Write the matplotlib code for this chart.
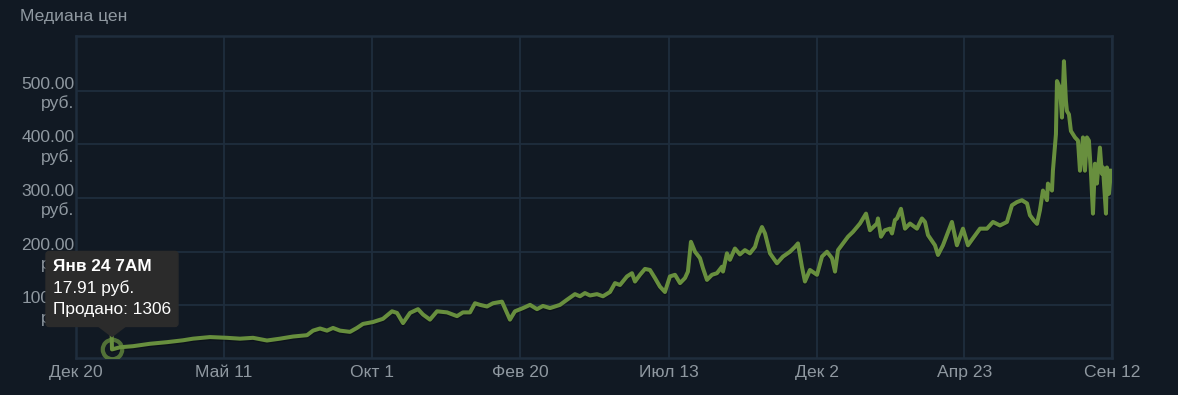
import matplotlib.pyplot as plt
import matplotlib.dates as mdates
import pandas as pd
from matplotlib.patches import FancyBboxPatch, Polygon
from matplotlib.transforms import IdentityTransform

plt.rcParams['font.family'] = ['Liberation Sans', 'DejaVu Sans']

# Медиана цен: дни от 20 декабря и цена в рублях
start = pd.Timestamp('2020-12-20')
days = [34.3, 34.6, 42.3, 54.8, 71.1, 87.5, 102.9, 112.5, 128.8, 145.2, 157.7, 170.2,
        183.6, 196.1, 208.6, 222.1, 227.9, 234.6, 241.3, 247.1, 253.8, 263.4, 270.1,
        275.9, 285.5, 295.1, 303.8, 308.6, 314.4, 321.1, 328.8, 333.6, 340.3, 347.1,
        356.7, 366.3, 372.0, 378.8, 383.6, 388.4, 395.1, 400.9, 409.5, 414.3, 417.2,
        422.0, 429.7, 436.5, 443.2, 448.9, 455.7, 465.3, 472.0, 479.7, 484.5, 489.3,
        494.1, 500.9, 506.6, 513.4, 518.2, 523.0, 529.7, 534.5, 537.4, 542.2, 547.0,
        551.8, 556.6, 561.4, 566.2, 571.0, 575.9, 580.7, 585.5, 588.3, 591.2, 595.1,
        599.9, 602.8, 606.6, 611.4, 616.2, 621.0, 622.0, 625.8, 628.7, 633.5, 638.3,
        643.1, 647.9, 652.8, 655.6, 659.5, 662.4, 667.2, 673.9, 679.7, 686.4, 691.2,
        694.1, 697.9, 700.8, 705.6, 712.4, 717.2, 722.0, 726.8, 729.7, 732.6, 737.4,
        742.2, 747.0, 753.7, 759.5, 763.3, 770.0, 771.0, 773.9, 777.7, 782.5, 784.5,
        787.3, 789.3, 793.1, 797.0, 801.8, 808.5, 813.3, 816.2, 819.1, 825.8, 828.7,
        833.5, 842.1, 846.9, 852.7, 857.5, 862.3, 869.1, 875.8, 881.6, 888.3, 895.0,
        899.8, 904.6, 909.4, 914.3, 917.1, 921.0, 923.9, 926.7, 929.6, 933.5, 934.4,
        938.3, 939.2, 942.1, 943.1, 946.0, 947.9, 949.8, 951.7, 952.7, 954.6, 956.5,
        960.4, 963.3, 965.2, 968.1, 970.0, 971.9, 973.8, 975.8, 977.7, 979.6, 981.5,
        984.4, 986.3, 987.3, 990.2, 991.1, 993.1, 995.0]
prices = [45, 18, 22, 24, 28.5, 31.5, 35, 38, 41, 39.6, 38, 39.6,
          34.6, 38, 42, 44.5, 53, 57, 53, 58, 53, 50.7, 58,
          65.5, 69, 75, 89, 86, 67, 86, 93, 83, 73.5, 89,
          87, 80, 87, 87, 104, 101, 98, 104, 107, 86, 73.5,
          89, 95, 101, 93, 99, 95, 101, 110.5, 121, 117, 123,
          118.5, 121, 117, 125, 141.5, 138, 154, 160, 144.5, 157, 168,
          166, 151, 135, 125, 154, 157, 141.5, 151, 163, 218.5, 200,
          188, 169, 147.5, 157, 160, 172, 163, 197, 185, 206, 195,
          203, 197, 209, 228, 246, 234, 197, 178.5, 191, 200, 209,
          215.5, 172, 144.5, 166, 157, 191, 200, 188, 163, 203, 215.5,
          228, 237, 252.5, 271, 240, 252.5, 262, 228, 240, 243, 234,
          259, 262, 280, 243, 252.5, 243, 262, 255.5, 231, 212, 194,
          212, 255.5, 212, 243, 212, 225, 243, 243, 255.5, 249, 255.5,
          286.5, 292.5, 296, 290, 268, 258, 252, 277, 314, 296, 327,
          314, 351, 419, 518, 505, 450, 555, 481, 462, 456, 425,
          413, 407, 351, 413, 351, 413, 407, 345, 271, 364, 327,
          394, 345, 357, 271, 357, 308, 351]

tick_dates = ['2020-12-20', '2021-05-11', '2021-10-01', '2022-02-20',
              '2022-07-13', '2022-12-02', '2023-04-23', '2023-09-12']
tick_labels = ['Дек 20', 'Май 11', 'Окт 1', 'Фев 20', 'Июл 13', 'Дек 2', 'Апр 23', 'Сен 12']
y_ticks = [100, 200, 300, 400, 500]

# подсказка для выделенной точки
tip_day = 34.6
tip_price = 17.91
tip_sold = 1306
tip_title = 'Янв 24 7AM'

bg = '#111923'
grid_c = '#1f2d3d'
text_c = '#8f98a0'
green = '#688f3e'

dates = start + pd.to_timedelta(days, unit='D')

fig = plt.figure(figsize=(11.78, 3.95), dpi=100, facecolor=bg)
ax = fig.add_axes([76 / 1178, 1 - 358 / 395, 1036 / 1178, 322 / 395])
ax.set_facecolor(bg)

# лёгкая тень под линией, как в оригинале
ax.plot(dates, [p - 2.5 for p in prices], color='black', lw=3.0, alpha=0.25,
        solid_joinstyle='round', zorder=2)
ax.plot(dates, prices, color=green, lw=2.9, solid_joinstyle='round', zorder=3)

ax.set_xlim(pd.Timestamp(tick_dates[0]), pd.Timestamp(tick_dates[-1]))
ax.set_ylim(2, 602)
ax.set_xticks(pd.to_datetime(tick_dates))
ax.set_xticklabels(tick_labels)
ax.set_yticks(y_ticks)
ax.set_yticklabels([f'{v:.2f}\nруб.' for v in y_ticks], linespacing=1.25)
ax.tick_params(axis='both', length=0, colors=text_c, labelsize=12.6)
ax.tick_params(axis='x', pad=5)
ax.tick_params(axis='y', pad=1)
ax.grid(True, color=grid_c, lw=1.3)
for s in ax.spines.values():
    s.set_color(grid_c)
    s.set_linewidth(1.8)

fig.text(20 / 1178, 1 - 17 / 395, 'Медиана цен', fontsize=12.6, color=text_c,
         ha='left', va='center')

# выделенная точка
tip_date = start + pd.Timedelta(days=tip_day)
ax.plot([tip_date], [tip_price], 'o', ms=14, mfc='none', mec=green, mew=3,
        alpha=0.75, zorder=4)

# подсказка в пикселях относительно точки
fig.canvas.draw()
px, py = ax.transData.transform((mdates.date2num(tip_date), tip_price))
py_top = py + 12
box = FancyBboxPatch((px - 66, py_top + 11), 132, 75,
                     boxstyle='round,pad=0,rounding_size=3',
                     transform=IdentityTransform(), facecolor='#2b2b2b',
                     edgecolor='#2b2b2b', zorder=5)
fig.add_artist(box)
tri = Polygon([(px - 15, py_top + 11.5), (px + 15, py_top + 11.5), (px, py_top)],
              closed=True, transform=IdentityTransform(), facecolor='#2b2b2b',
              edgecolor='none', zorder=5)
fig.add_artist(tri)
lines = [(tip_title, 'bold'), (f'{tip_price:.2f} руб.', 'normal'),
         (f'Продано: {tip_sold}', 'normal')]
for i, (txt, w) in enumerate(lines):
    fig.text((px - 59) / 1178, (py_top + 11 + 75 - 15 - i * 21.5) / 395, txt,
             fontsize=12.4, color='white', fontweight=w, ha='left', va='center',
             zorder=6)

fig.savefig('out.png', dpi=100, facecolor=bg)
